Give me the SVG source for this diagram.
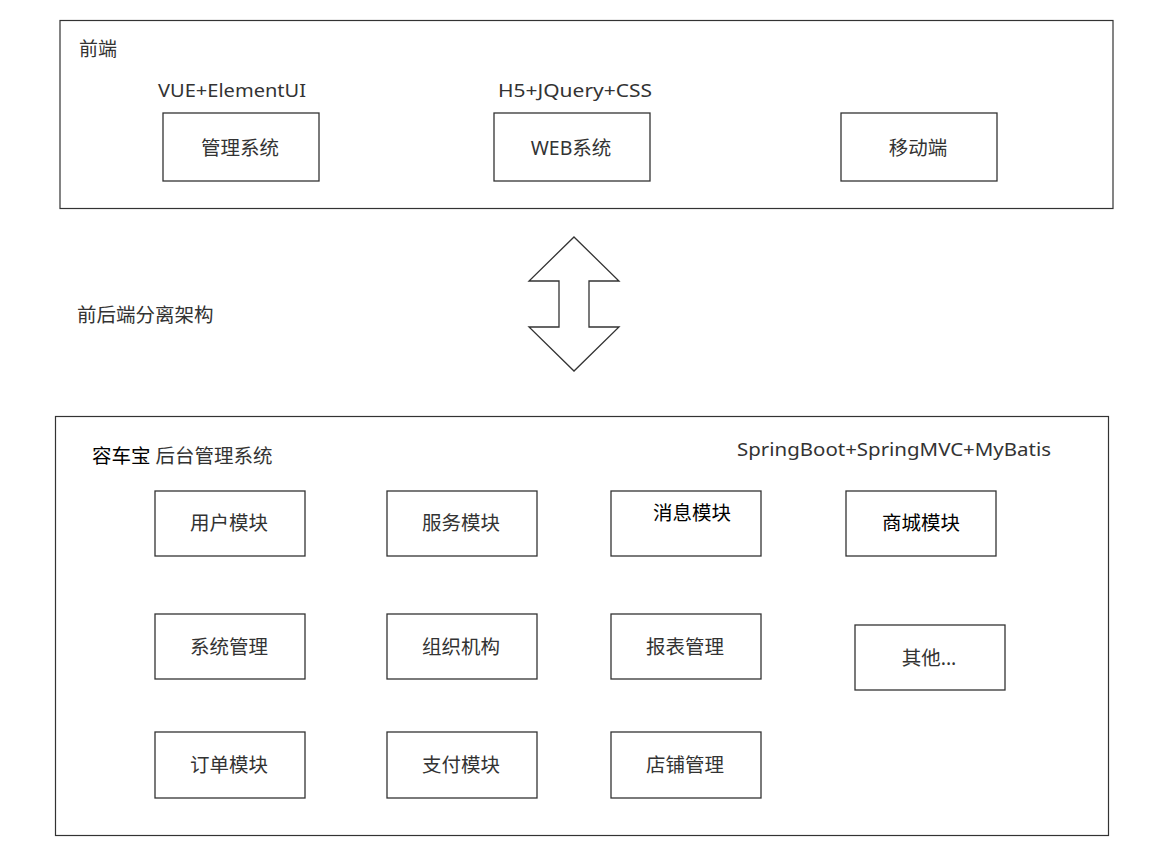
<svg xmlns="http://www.w3.org/2000/svg" width="1164" height="850" viewBox="0 0 1164 850">
<style>
.frame{fill:#fff;stroke:#333;stroke-width:1.2}
.box{fill:#fff;stroke:#333;stroke-width:1.3}
text{font-family:"Noto Sans","Noto Sans CJK SC",sans-serif;font-size:19.5px;fill:#333}
.c{text-anchor:middle}
.k{fill:#000}
</style>
<rect width="1164" height="850" fill="#fff"/>
<g id="frontend">
<rect class="frame" x="60" y="20.5" width="1053" height="188"/>
<text x="79" y="56" style="font-size:19px">前端</text>
<text class="c" x="232" y="97" textLength="148" lengthAdjust="spacingAndGlyphs" style="font-size:18px">VUE+ElementUI</text>
<text class="c" x="575" y="97" textLength="154" lengthAdjust="spacingAndGlyphs" style="font-size:18px">H5+JQuery+CSS</text>
</g>
<g id="n-admin"><rect class="box" x="163" y="113" width="156" height="68"/><text class="c" x="240" y="155">管理系统</text></g>
<g id="n-web"><rect class="box" x="494" y="113" width="156" height="68"/><text class="c" x="571" y="155">WEB系统</text></g>
<g id="n-mobile"><rect class="box" x="841" y="113" width="156" height="68"/><text class="c" x="918" y="155">移动端</text></g>
<g id="connectors">
<polygon points="574,237 619,281 589,281 589,327 619,327 574,371 529,327 559,327 559,281 529,281" fill="#fff" stroke="#333" stroke-width="1.3"/>
</g>
<text x="77" y="322">前后端分离架构</text>
<g id="backend">
<rect class="frame" x="55.5" y="416.5" width="1053" height="419"/>
<text x="92" y="463"><tspan class="k">容车宝</tspan> 后台管理系统</text>
<text x="737" y="456" textLength="314" lengthAdjust="spacingAndGlyphs" style="font-size:18px">SpringBoot+SpringMVC+MyBatis</text>
</g>
<g id="n-user"><rect class="box" x="155" y="491" width="150" height="65"/><text class="c" x="229" y="530">用户模块</text></g>
<g id="n-service"><rect class="box" x="387" y="491" width="150" height="65"/><text class="c" x="461" y="530">服务模块</text></g>
<g id="n-msg"><rect class="box" x="611" y="491" width="150" height="65"/><text class="c k" x="692" y="520">消息模块</text></g>
<g id="n-mall"><rect class="box" x="846" y="491" width="150" height="65"/><text class="c k" x="921" y="530">商城模块</text></g>
<g id="n-sys"><rect class="box" x="155" y="614" width="150" height="65"/><text class="c" x="229" y="654">系统管理</text></g>
<g id="n-org"><rect class="box" x="387" y="614" width="150" height="65"/><text class="c" x="461" y="654">组织机构</text></g>
<g id="n-report"><rect class="box" x="611" y="614" width="150" height="65"/><text class="c" x="685" y="654">报表管理</text></g>
<g id="n-other"><rect class="box" x="855" y="625" width="150" height="65"/><text class="c" x="929" y="665">其他...</text></g>
<g id="n-order"><rect class="box" x="155" y="732" width="150" height="66"/><text class="c" x="229" y="772">订单模块</text></g>
<g id="n-pay"><rect class="box" x="387" y="732" width="150" height="66"/><text class="c" x="461" y="772">支付模块</text></g>
<g id="n-shop"><rect class="box" x="611" y="732" width="150" height="66"/><text class="c" x="685" y="772">店铺管理</text></g>
</svg>
